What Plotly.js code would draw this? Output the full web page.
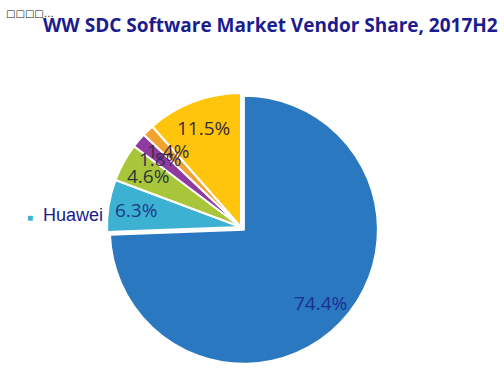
<!DOCTYPE html>
<html>
<head>
<meta charset="utf-8">
<script src="https://cdn.plot.ly/plotly-3.0.1.min.js"></script>
<style>html,body{margin:0;padding:0;background:#fff;}#chart{width:504px;height:382px;}</style>
</head>
<body>
<div id="chart"></div>
<script>
var vendors = ["Vendor A", "Huawei", "Vendor C", "Vendor D", "Vendor E", "Vendor F"];
var shares = [74.4, 6.3, 4.6, 1.8, 1.4, 11.5];
var shareLabels = ["74.4%", "6.3%", "4.6%", "1.8%", "1.4%", "11.5%"];
var colors = ["#2a78bf", "#3db1d2", "#a9c63a", "#8f3a9f", "#f2a231", "#ffc50c"];
var textColors = ["#1b2f90", "#1b3a8c", "#28363a", "#3a2d5a", "#3a2d40", "#3a2b3c"];

var W = 504, H = 382;
var pulls = [0.03, 0, 0, 0, 0, 0];
var maxPull = Math.max.apply(null, pulls);
// pie layout (pixels)
var cx = 241, cy = 227, R = 134;
var half = R * (1 + maxPull);
var dom = {x: [(cx - half) / W, (cx + half) / W], y: [1 - (cy + half) / H, 1 - (cy - half) / H]};

var pie = {
  type: "pie",
  values: shares,
  labels: vendors,
  textinfo: "none",
  sort: false,
  direction: "clockwise",
  rotation: 0,
  pull: pulls,
  marker: {colors: colors, line: {color: "#ffffff", width: 2}},
  domain: dom,
  showlegend: false,
  hoverinfo: "none"
};

// percentage labels placed on each slice's bisector, derived from the values
var total = shares.reduce(function (a, b) { return a + b; }, 0);
var labelFrac = 0.79;
var annotations = [];
var cum = 0;
for (var i = 0; i < shares.length; i++) {
  var mid = (cum + shares[i] / 2) / total * 2 * Math.PI;
  cum += shares[i];
  var rr = R * (labelFrac + pulls[i]);
  var px = cx + rr * Math.sin(mid);
  var py = cy - rr * Math.cos(mid);
  annotations.push({
    text: shareLabels[i],
    x: px / W, y: 1 - py / H, xref: "paper", yref: "paper",
    xanchor: "center", yanchor: "middle", showarrow: false,
    font: {family: "Open Sans, sans-serif", size: 19, color: textColors[i]}
  });
}

annotations.push({
  text: "\u25A1\u25A1\u25A1\u25A1\u2026",
  x: 4 / W, xanchor: "left", y: 1 - 13 / H, yanchor: "middle",
  xref: "paper", yref: "paper", showarrow: false,
  font: {family: "DejaVu Sans, sans-serif", size: 10, color: "#222222"}
});

annotations.push({
  text: '<span style="font-size:10px;color:' + colors[1] + '">\u25A0</span>  ' + vendors[1],
  x: 25 / W, xanchor: "left", y: 1 - 215 / H, yanchor: "middle",
  xref: "paper", yref: "paper", showarrow: false,
  font: {family: "Liberation Sans, Arial, sans-serif", size: 18, color: "#1a1a8c"}
});

var layout = {
  width: W, height: H,
  margin: {l: 0, r: 0, t: 0, b: 0},
  paper_bgcolor: "#ffffff",
  plot_bgcolor: "#ffffff",
  showlegend: false,
  title: {
    text: "<b>WW SDC Software Market Vendor Share, 2017H2</b>",
    font: {family: "Open Sans, sans-serif", size: 19, color: "#1c1c8e"},
    x: 43 / W, xanchor: "left", y: 1 - 25 / H, yanchor: "middle"
  },
  annotations: annotations
};

Plotly.newPlot("chart", [pie], layout, {displayModeBar: false, staticPlot: true});
</script>
</body>
</html>
